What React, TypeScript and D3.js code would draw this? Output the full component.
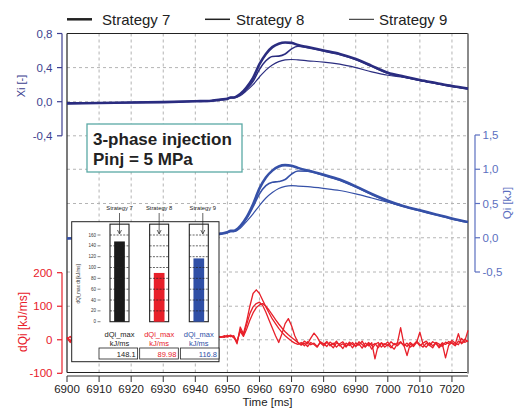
import React from 'react';
import * as d3 from 'd3';

const strategies = ['Strategy 7', 'Strategy 8', 'Strategy 9'];

// time base for Xi / Qi traces [ms]
const tSlow = [6900, 6910, 6920, 6930, 6940, 6945, 6948, 6950, 6951, 6952, 6954, 6956, 6958, 6960, 6962, 6964,
    6966, 6968, 6970, 6972, 6975, 6980, 6985, 6990, 6995, 7000, 7005, 7010, 7015, 7020, 7025];

const xi7 = [-0.02, -0.015, -0.01, -0.005, 0.005, 0.012, 0.025, 0.035, 0.05, 0.05, 0.09, 0.17, 0.28, 0.44, 0.56, 0.64,
    0.68, 0.695, 0.69, 0.665, 0.64, 0.6, 0.56, 0.5, 0.42, 0.34, 0.295, 0.255, 0.22, 0.185, 0.155];
const xi8 = [-0.02, -0.015, -0.01, -0.005, 0.005, 0.012, 0.025, 0.035, 0.05, 0.05, 0.085, 0.15, 0.24, 0.38, 0.48, 0.53,
    0.535, 0.56, 0.62, 0.65, 0.635, 0.595, 0.555, 0.495, 0.415, 0.335, 0.29, 0.25, 0.215, 0.18, 0.15];
const xi9 = [-0.02, -0.015, -0.01, -0.005, 0.005, 0.012, 0.022, 0.03, 0.045, 0.045, 0.07, 0.13, 0.2, 0.29, 0.37, 0.43,
    0.47, 0.49, 0.495, 0.49, 0.48, 0.465, 0.44, 0.4, 0.35, 0.31, 0.285, 0.25, 0.215, 0.18, 0.15];

const qi7 = [-0.01, 0.0, 0.005, 0.01, 0.03, 0.045, 0.06, 0.08, 0.1, 0.1, 0.17, 0.3, 0.49, 0.72, 0.88, 0.98,
    1.04, 1.06, 1.05, 1.02, 0.98, 0.92, 0.85, 0.75, 0.64, 0.54, 0.46, 0.4, 0.34, 0.28, 0.23];
const qi8 = [-0.01, 0.0, 0.005, 0.01, 0.03, 0.045, 0.06, 0.08, 0.1, 0.1, 0.16, 0.28, 0.45, 0.64, 0.76, 0.81,
    0.82, 0.85, 0.93, 0.975, 0.97, 0.91, 0.84, 0.74, 0.63, 0.53, 0.455, 0.395, 0.335, 0.275, 0.225];
const qi9 = [-0.01, 0.0, 0.005, 0.01, 0.03, 0.045, 0.055, 0.075, 0.09, 0.09, 0.14, 0.24, 0.35, 0.47, 0.58, 0.66,
    0.72, 0.75, 0.76, 0.755, 0.745, 0.72, 0.69, 0.64, 0.58, 0.52, 0.46, 0.4, 0.34, 0.28, 0.23];

// time base for heat release rate [ms]
const tFast = [6900, 6901, 6902, 6905, 6910, 6920, 6930, 6940,
    6944, 6945, 6946, 6947, 6948, 6949, 6950, 6951, 6952, 6953, 6954, 6955, 6956, 6957, 6958, 6959,
    6960, 6961, 6962, 6963, 6964, 6965, 6966, 6967, 6968, 6969, 6970, 6971, 6972, 6973, 6974, 6975,
    6976, 6977, 6978, 6979, 6980, 6981, 6982, 6983, 6984, 6985, 6986, 6987, 6988, 6989, 6990, 6991,
    6992, 6993, 6994, 6995, 6996, 6997, 6998, 6999, 7000, 7001, 7002, 7003, 7004, 7005, 7006, 7007,
    7008, 7009, 7010, 7011, 7012, 7013, 7014, 7015, 7016, 7017, 7018, 7019, 7020, 7021, 7022, 7023,
    7024, 7025];

const dq7 = [5, -8, 12, 3, 6, 4, 7, 5,
    7, 10, 5, 9, 8, 12, 10, 14, 8, -12, 38, 18, 55, 100, 138, 149,
    138, 118, 98, 80, 62, 48, 34, 22, 12, 4, -4, -10, -14, -8, -18, -6,
    -15, -10, -20, -8, -14, -5, -18, -10, -22, -12, -6, -19, -11, -24, -9, -16,
    -4, -20, -12, -28, -14, -8, -22, -12, -18, -6, -15, -9, 36, -12, -20, -8,
    -16, -4, -14, -22, -10, -17, -6, -12, -20, -9, -14, -5, -11, -18, -4, -10,
    2, -6];
const dq8 = [2, 10, -5, 6, 3, 8, 5, 6,
    4, 8, 11, 6, 9, 7, 13, 9, 12, -8, 30, 14, 45, 78, 98, 108,
    112, 102, 82, 58, 35, 12, -8, 18, 48, 63, 42, 12, -8, -14, -4, -12,
    5, 20, 8, -10, -18, -8, -14, -24, -9, -15, -26, -10, -17, -8, -20, -12,
    -25, -10, -18, -9, -57, -16, -10, -22, -14, -24, -11, -18, -8, -16, -47, -12,
    -20, -8, 23, -14, -22, -9, -18, -10, -24, -12, -54, -16, -8, -14, 18, -12,
    -4, 28];
const dq9 = [8, -2, 4, 7, 5, 6, 4, 8,
    9, 6, 10, 12, 7, 10, 8, 12, 6, -5, 25, 10, 32, 58, 80, 96,
    104, 108, 100, 88, 74, 60, 47, 35, 24, 15, 7, -1, -9, -16, -10, -20,
    -8, -14, -22, -6, -12, -20, -7, -15, -4, -18, -12, -22, -7, -14, -19, -6,
    -14, -22, -8, -17, -11, -24, -9, -15, -7, -19, -28, -12, -6, -18, -10, -22,
    -14, -7, -18, -10, -4, -16, -24, -8, -13, -20, -7, -12, -2, -10, -15, 4,
    -8, -2];

// inset: peak heat release rate [kJ/ms]
const dqMax = [148.1, 89.98, 116.8];
const dqMaxText = ['148.1', '89.98', '116.8'];

const xTicks = [6900, 6910, 6920, 6930, 6940, 6950, 6960, 6970, 6980, 6990, 7000, 7010, 7020];
const xiTicks = [0.8, 0.4, 0.0, -0.4];
const qiTicks = [1.5, 1.0, 0.5, 0.0, -0.5];
const dqTicks = [200, 100, 0, -100];
const insetTicks = [0, 20, 40, 60, 80, 100, 120, 140, 160];
const insetGrid = [20, 40, 60, 80, 100, 120, 140, 160];

const FONT = '"Liberation Sans", Arial, sans-serif';
const XI_COL = '#2b2d80';
const XI_AX = '#3d3f90';
const QI_COL = '#3651a8';
const QI_AX = '#5b6fc0';
const RED = '#e8202a';
const GRID = '#b4b4b4';
const widths = [2.6, 1.6, 1.2];
const insetColors = ['#1a1a1a', RED, '#2f4fa6'];

const comma = (v: number) => d3.format('.1f')(v).replace('.', ',').replace('−', '-');

const App: React.FC = () => {
    const x = d3.scaleLinear().domain([6900, 7025]).range([67, 468]);
    const yXi = d3.scaleLinear().domain([-0.4, 0.8]).range([135.8, 33.5]);
    const yQi = d3.scaleLinear().domain([-0.5, 1.5]).range([272, 135]);
    const yDq = d3.scaleLinear().domain([-100, 200]).range([373.3, 272.7]);

    const smooth = (vals: number[], y: d3.ScaleLinear<number, number>) =>
        d3.line<number>().x((_, i) => x(tSlow[i])).y(v => y(v)).curve(d3.curveMonotoneX)(vals) || '';
    const raw = (vals: number[]) =>
        d3.line<number>().x((_, i) => x(tFast[i])).y(v => yDq(v))(vals) || '';

    // inset scales
    const yIn = d3.scaleLinear().domain([0, 160]).range([321.7, 235]);
    const colX = d3.scalePoint<string>().domain(strategies).range([119.5, 198.8]);
    const boxX = d3.scaleBand<string>().domain(strategies).range([99, 219]).paddingInner(0.05);
    const colW = 19;
    const barW = 10.7;
    const labelShift = [0, 0, 4];

    const left = 67, right = 468, top = 33.5, bottom = 372.5;

    return (
        <svg width={517} height={412} style={{ position: 'absolute', left: 0, top: 0, fontFamily: FONT }}>
            <rect width={517} height={412} fill="#fff" />

            {/* grid */}
            <g stroke={GRID} strokeWidth={1} strokeDasharray="3,3">
                {xTicks.slice(1).map(t => (
                    <line key={'v' + t} x1={x(t)} x2={x(t)} y1={top} y2={bottom} />
                ))}
                {xiTicks.slice(1).map(v => (
                    <line key={'xi' + v} x1={left} x2={right} y1={yXi(v)} y2={yXi(v)} />
                ))}
                {qiTicks.slice(1).map(v => (
                    <line key={'qi' + v} x1={left} x2={right} y1={yQi(v)} y2={yQi(v)} />
                ))}
                {[100, 0].map(v => (
                    <line key={'dq' + v} x1={left} x2={right} y1={yDq(v)} y2={yDq(v)} />
                ))}
            </g>

            {/* frame */}
            <line x1={left} x2={right} y1={top} y2={top} stroke="#222" strokeWidth={1.2} />
            <line x1={left} x2={left} y1={top} y2={bottom} stroke="#222" strokeWidth={1.2} />
            <line x1={left} x2={right} y1={bottom} y2={bottom} stroke="#222" strokeWidth={1.2} />
            <line x1={right} x2={right} y1={top} y2={bottom + 1} stroke="#8a8a8a" strokeWidth={2} />

            {/* traces */}
            <g fill="none" stroke={RED} strokeWidth={1.3} strokeLinejoin="round">
                {[dq7, dq8, dq9].map((s, i) => <path key={'dq' + i} d={raw(s)} />)}
            </g>
            <g fill="none" stroke={QI_COL} strokeLinejoin="round">
                {[qi7, qi8, qi9].map((s, i) => <path key={'qi' + i} d={smooth(s, yQi)} strokeWidth={widths[i]} />)}
            </g>
            <g fill="none" stroke={XI_COL} strokeLinejoin="round">
                {[xi7, xi8, xi9].map((s, i) => <path key={'xi' + i} d={smooth(s, yXi)} strokeWidth={widths[i]} />)}
            </g>

            {/* note box */}
            <rect x={87} y={124} width={155} height={48} fill="#fff" stroke="#5aa9a5" strokeWidth={1.3} />
            <text x={93} y={145} fontSize={17} fontWeight="bold" fill="#222">3-phase injection</text>
            <text x={93} y={165} fontSize={17} fontWeight="bold" fill="#222">Pinj = 5 MPa</text>

            {/* x axis */}
            <g stroke="#333" strokeWidth={1}>
                <line x1={left} x2={right} y1={376} y2={376} />
                {xTicks.map(t => <line key={t} x1={x(t)} x2={x(t)} y1={376} y2={382} />)}
            </g>
            <g fontSize={11.5} fill="#222" textAnchor="middle">
                {xTicks.map(t => <text key={t} x={x(t)} y={393}>{t}</text>)}
                <text x={267.5} y={406}>Time [ms]</text>
            </g>

            {/* Xi axis */}
            <g stroke={XI_AX} strokeWidth={1.2}>
                <line x1={62} x2={62} y1={yXi(0.8)} y2={yXi(-0.4)} />
                {xiTicks.map(v => <line key={v} x1={57} x2={62} y1={yXi(v)} y2={yXi(v)} />)}
            </g>
            <g fontSize={11.5} fill={XI_AX} textAnchor="end">
                {xiTicks.map(v => <text key={v} x={52.5} y={yXi(v) + 4}>{comma(v)}</text>)}
            </g>
            <text transform="translate(25,86) rotate(-90)" textAnchor="middle" fontSize={11} fill={XI_AX}>Xi [-]</text>

            {/* Qi axis */}
            <g stroke={QI_AX} strokeWidth={1.2}>
                <line x1={475} x2={475} y1={yQi(1.5)} y2={yQi(-0.5)} />
                {qiTicks.map(v => <line key={v} x1={475} x2={480} y1={yQi(v)} y2={yQi(v)} />)}
            </g>
            <g fontSize={11.5} fill={QI_AX} textAnchor="start">
                {qiTicks.map(v => <text key={v} x={482.5} y={yQi(v) + 4}>{comma(v)}</text>)}
            </g>
            <text transform="translate(511,203) rotate(-90)" textAnchor="middle" fontSize={11.5} fill={QI_AX}>Qi [kJ]</text>

            {/* dQi axis */}
            <g stroke={RED} strokeWidth={1.2}>
                <line x1={62} x2={62} y1={yDq(200)} y2={yDq(-100)} />
                {dqTicks.map(v => <line key={v} x1={57} x2={62} y1={yDq(v)} y2={yDq(v)} />)}
            </g>
            <g fontSize={11.5} fill={RED} textAnchor="end">
                {dqTicks.map(v => <text key={v} x={52.5} y={yDq(v) + 4}>{v}</text>)}
            </g>
            <text transform="translate(27,322) rotate(-90)" textAnchor="middle" fontSize={12} fill={RED}>dQi [kJ/ms]</text>

            {/* legend */}
            {strategies.map((s, i) => {
                const lx = [67, 205, 349][i];
                const tx = [102, 236, 379][i];
                return (
                    <g key={s}>
                        <line x1={lx} x2={lx + 25} y1={19.3} y2={19.3} stroke="#222" strokeWidth={[2.5, 1.5, 1][i]} />
                        <text x={tx} y={24.5} fontSize={15} fill="#222">{s}</text>
                    </g>
                );
            })}

            {/* inset: peak heat release rate */}
            <g>
                <rect x={71.7} y={221.7} width={147.3} height={140} fill="#fff" stroke="#222" strokeWidth={1} />
                <text transform={`translate(79.5,${yIn(70)}) rotate(-90)`} textAnchor="middle" fontSize={4.6} fill="#333">dQi_max dt [kJ/ms]</text>
                {insetTicks.map(v => (
                    <g key={v}>
                        <text x={96} y={yIn(v) + 1.6} fontSize={4.5} textAnchor="end" fill="#333">{v}</text>
                        <line x1={97.5} x2={100.5} y1={yIn(v)} y2={yIn(v)} stroke="#333" strokeWidth={0.6} />
                    </g>
                ))}
                {strategies.map((s, i) => {
                    const cx = colX(s) as number;
                    const lx = cx + labelShift[i];
                    const bx = boxX(s) as number;
                    return (
                        <g key={s}>
                            <rect x={cx - colW / 2} y={yIn(180)} width={colW} height={yIn(0) - yIn(180)} fill="#fff" stroke="#222" strokeWidth={1.1} />
                            <rect x={cx - barW / 2} y={yIn(dqMax[i])} width={barW} height={yIn(0) - yIn(dqMax[i])} fill={insetColors[i]} />
                            {insetGrid.map(v => (
                                <line key={v} x1={cx - colW / 2} x2={cx + colW / 2} y1={yIn(v)} y2={yIn(v)}
                                    stroke="#222" strokeWidth={0.7} strokeDasharray="2,1.3" />
                            ))}
                            <text x={lx} y={210} fontSize={5.8} textAnchor="middle" fill="#222">{s}</text>
                            <line x1={lx} x2={lx} y1={213} y2={233.5} stroke="#222" strokeWidth={0.7} />
                            <path d={`M${lx - 2},${230} L${lx},${234} L${lx + 2},${230}`} fill="none" stroke="#222" strokeWidth={0.7} />
                            <text x={cx} y={336.5} fontSize={7.5} textAnchor="middle" fill={insetColors[i]}>dQi_max</text>
                            <text x={cx} y={346} fontSize={7.5} textAnchor="middle" fill={insetColors[i]}>kJ/ms</text>
                            <rect x={bx} y={348} width={boxX.bandwidth()} height={11} fill="#fff" stroke="#222" strokeWidth={0.8} />
                            <text x={bx + boxX.bandwidth() - 2} y={356.8} fontSize={7.5} textAnchor="end" fill={insetColors[i]}>{dqMaxText[i]}</text>
                        </g>
                    );
                })}
            </g>
        </svg>
    );
};

export default App;
